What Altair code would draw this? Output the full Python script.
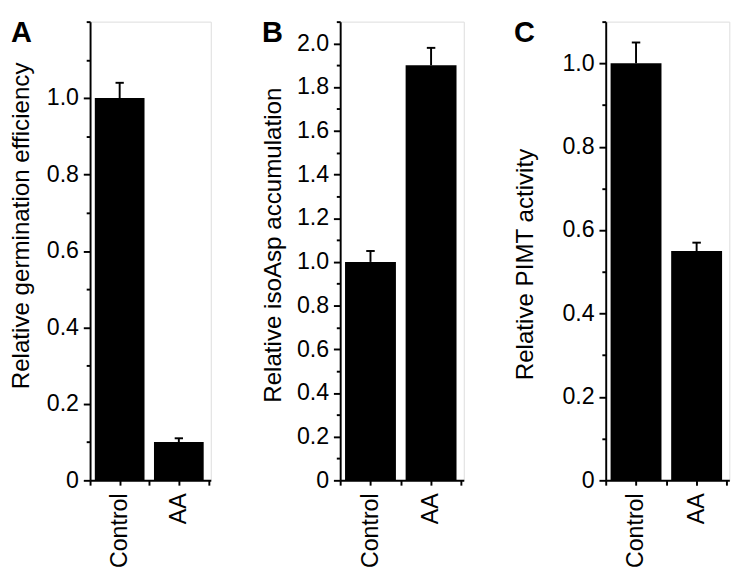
import altair as alt
import pandas as pd

categories = ["Control", "AA"]
panel_letters = ["A", "B", "C"]
y_titles = [
    "Relative germination efficiency",
    "Relative isoAsp accumulation",
    "Relative PIMT activity",
]
germination = [1.0, 0.10]
germination_err = [0.04, 0.01]
isoasp = [1.0, 1.9]
isoasp_err = [0.05, 0.08]
pimt = [1.0, 0.55]
pimt_err = [0.05, 0.02]

y_max = [1.2, 2.1, 1.1]
major_ticks = [
    [0, 0.2, 0.4, 0.6, 0.8, 1.0],
    [0, 0.2, 0.4, 0.6, 0.8, 1.0, 1.2, 1.4, 1.6, 1.8, 2.0],
    [0, 0.2, 0.4, 0.6, 0.8, 1.0],
]
minor_ticks = [
    [0.1, 0.3, 0.5, 0.7, 0.9, 1.1, 1.2],
    [0.1, 0.3, 0.5, 0.7, 0.9, 1.1, 1.3, 1.5, 1.7, 1.9, 2.1],
    [0.1, 0.3, 0.5, 0.7, 0.9, 1.1],
]

FONT = "Liberation Sans"
H = 475


def panel(letter, title, values, errs, ymax, majors, minors, width,
          title_x, title_y, letter_x):
    df = pd.DataFrame({
        "cat": categories,
        "idx": list(range(len(categories))),
        "value": values,
        "err": errs,
    })
    base = alt.Chart(df).transform_calculate(
        x0="datum.idx + 0.08",
        x1="datum.idx + 0.92",
        xc="datum.idx + 0.5",
        c0="datum.idx + 0.43",
        c1="datum.idx + 0.57",
        top="datum.value + datum.err",
    )
    xscale = alt.Scale(domain=[0, 2.04], nice=False, zero=False)
    yscale = alt.Scale(domain=[0, ymax], nice=False)
    label_expr = (
        f"datum.value == 0.5 ? '{categories[0]}' : "
        f"datum.value == 1.5 ? '{categories[1]}' : ''"
    )
    xaxis = alt.Axis(
        values=[0, 0.5, 1, 1.5, 2], labelExpr=label_expr, labelAngle=270,
        labelAlign="right", labelBaseline="middle", labelPadding=8,
        tickSize=5, tickWidth=2, domainWidth=2, labelFontSize=24,
        title=None, grid=False, labelOverlap=False, labelFlush=False,
        domainColor="black", tickColor="black", labelColor="black",
        labelFont=FONT,
    )
    yaxis_major = alt.Axis(
        values=majors, orient="left",
        labelExpr="datum.value == 0 ? '0' : format(datum.value, '.1f')",
        tickSize=7, tickWidth=2, domainWidth=2, labelPadding=5,
        labelFontSize=24, labelFont=FONT, labelColor="black",
        domainColor="black", tickColor="black", grid=False,
        title=title, titleFontSize=25, titleFontWeight="normal",
        titleFont=FONT, titleColor="black", titleAngle=270,
        titleX=title_x, titleY=title_y, titleBaseline="middle",
        titleAlign="center",
    )
    yaxis_minor = alt.Axis(
        values=minors, orient="left", labels=False, tickSize=4,
        tickWidth=2, tickColor="black", domain=False, grid=False,
        title=None,
    )
    err_rule = base.mark_rule(color="black", strokeWidth=2).encode(
        x=alt.X("xc:Q", scale=xscale, axis=xaxis),
        y=alt.Y("value:Q", scale=yscale, axis=yaxis_minor),
        y2="top:Q",
    )
    err_cap = base.mark_rule(color="black", strokeWidth=2).encode(
        x=alt.X("c0:Q", scale=xscale, axis=xaxis),
        x2="c1:Q",
        y=alt.Y("top:Q", scale=yscale, axis=None),
    )
    bars = base.mark_bar(color="black").encode(
        x=alt.X("x0:Q", scale=xscale, axis=xaxis),
        x2="x1:Q",
        y=alt.Y("value:Q", scale=yscale, axis=yaxis_major),
        y2=alt.datum(0),
    )
    letter_df = pd.DataFrame({"letter": [letter]})
    letter_text = alt.Chart(letter_df).mark_text(
        align="left", baseline="alphabetic", fontSize=30,
        fontWeight="bold", font=FONT, color="black",
    ).encode(text="letter:N", x=alt.value(letter_x), y=alt.value(21))
    return alt.layer(err_rule, err_cap, bars, letter_text).resolve_axis(
        y="independent"
    ).properties(width=width, height=H)


pa = panel(panel_letters[0], y_titles[0], germination, germination_err,
           y_max[0], major_ticks[0], minor_ticks[0], 125, -72, 211, -82)
pb = panel(panel_letters[1], y_titles[1], isoasp, isoasp_err,
           y_max[1], major_ticks[1], minor_ticks[1], 128, -70, 231, -81)
pc = panel(panel_letters[2], y_titles[2], pimt, pimt_err,
           y_max[2], major_ticks[2], minor_ticks[2], 128, -84, 251, -95)

chart = alt.hconcat(pa, pb, pc, spacing=40).properties(
    padding=0
).configure_view(stroke=None).configure(font=FONT)

chart.save("out.html", embed_options={"renderer": "svg", "actions": False})
